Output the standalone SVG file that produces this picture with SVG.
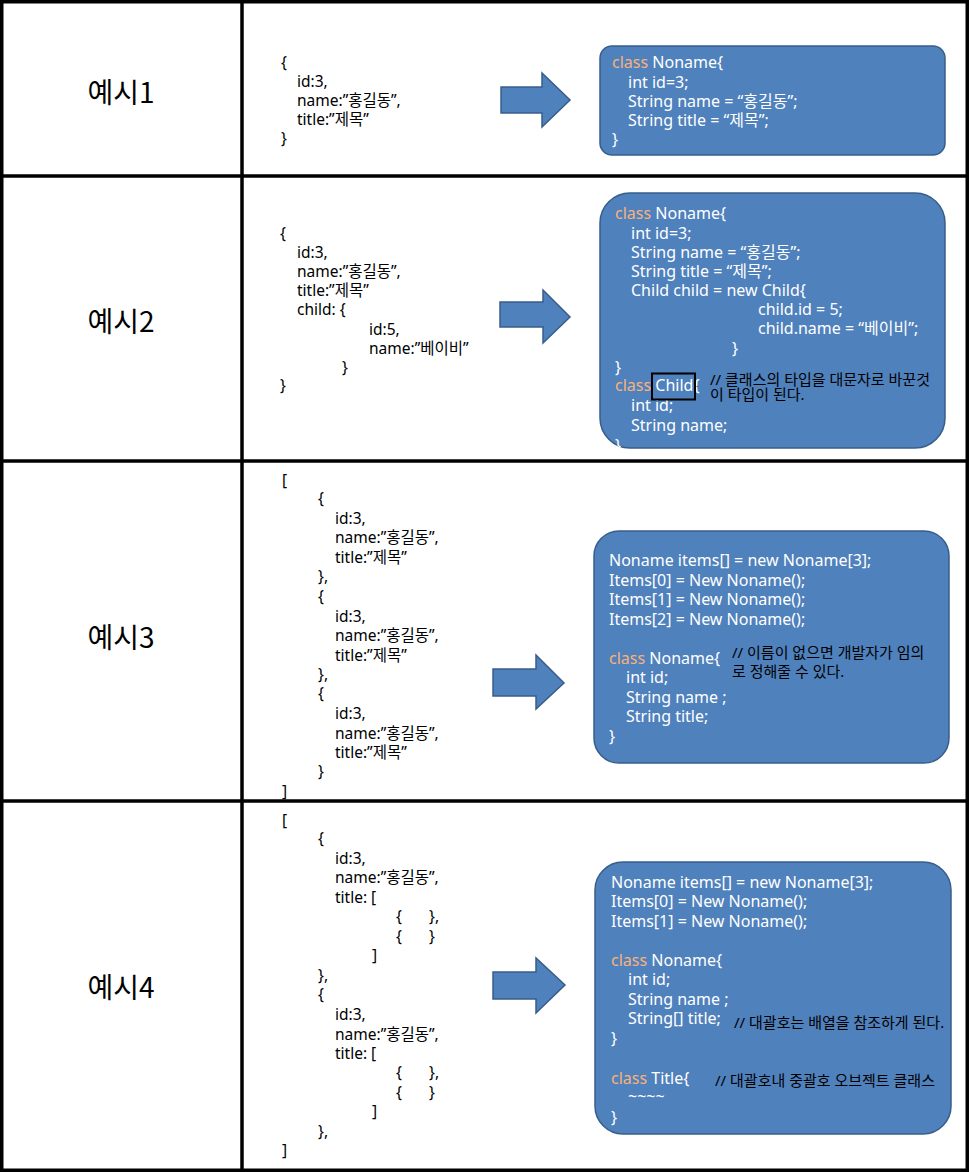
<svg xmlns="http://www.w3.org/2000/svg" width="971" height="1172" viewBox="0 0 971 1172">
<style>
.grid{stroke:#000;stroke-width:3.5;fill:none}
.box{fill:#4F81BD;stroke:#385D8A;stroke-width:1.5}
.arrow{fill:#4F81BD;stroke:#385D8A;stroke-width:1.5}
.lbl{font-family:'Noto Sans CJK KR','Noto Sans',sans-serif;font-size:28px;fill:#000;text-anchor:middle}
.js{font-family:'Noto Sans','Noto Sans CJK KR',sans-serif;font-size:15.5px;fill:#000}
.code{font-family:'Noto Sans','Noto Sans CJK KR',sans-serif;font-size:16px;fill:#fff}
.kw{fill:#F8B27A}
.cm{font-family:'Noto Sans','Noto Sans CJK KR',sans-serif;font-size:15px;fill:#000}
</style>
<rect width="971" height="1172" fill="#fff"/>
<g id="table">
<rect class="grid" x="1.75" y="1.75" width="965.5" height="1168.5"/>
<line class="grid" x1="242" y1="0" x2="242" y2="1170"/>
<line class="grid" x1="0" y1="176" x2="967" y2="176"/>
<line class="grid" x1="0" y1="461" x2="967" y2="461"/>
<line class="grid" x1="0" y1="801" x2="967" y2="801"/>
</g>
<g id="labels">
<text class="lbl" x="121" y="103">예시1</text>
<text class="lbl" x="121" y="332">예시2</text>
<text class="lbl" x="121" y="648">예시3</text>
<text class="lbl" x="121" y="998">예시4</text>
</g>
<g id="connectors">
<polygon class="arrow" points="501,87 542,87 542,73 570,100 542,127 542,113 501,113"/>
<polygon class="arrow" points="500,302 543,302 543,290 570,317 543,343 543,327 500,327"/>
<polygon class="arrow" points="493,669 536,669 536,655 564,683 536,709 536,696 493,696"/>
<polygon class="arrow" points="493,972 536,972 536,958 565,985 536,1013 536,999 493,999"/>
</g>
<g id="json1">
<text class="js" x="281" y="68">{</text>
<text class="js" x="297" y="87">id:3,</text>
<text class="js" x="297" y="106">name:”홍길동”,</text>
<text class="js" x="297" y="125">title:”제목”</text>
<text class="js" x="281" y="144">}</text>
</g>
<g id="json2">
<text class="js" x="280" y="239">{</text>
<text class="js" x="297" y="258">id:3,</text>
<text class="js" x="297" y="277">name:”홍길동”,</text>
<text class="js" x="297" y="296">title:”제목”</text>
<text class="js" x="297" y="315">child:  {</text>
<text class="js" x="369" y="335">id:5,</text>
<text class="js" x="369" y="354">name:”베이비”</text>
<text class="js" x="342" y="373">}</text>
<text class="js" x="280" y="391">}</text>
</g>
<g id="json3">
<text class="js" x="282" y="486">[</text>
<text class="js" x="318" y="504">{</text>
<text class="js" x="335" y="524">id:3,</text>
<text class="js" x="335" y="543">name:”홍길동”,</text>
<text class="js" x="335" y="563">title:”제목”</text>
<text class="js" x="318" y="582">},</text>
<text class="js" x="318" y="602">{</text>
<text class="js" x="335" y="622">id:3,</text>
<text class="js" x="335" y="641">name:”홍길동”,</text>
<text class="js" x="335" y="661">title:”제목”</text>
<text class="js" x="318" y="680">},</text>
<text class="js" x="318" y="699">{</text>
<text class="js" x="335" y="719">id:3,</text>
<text class="js" x="335" y="739">name:”홍길동”,</text>
<text class="js" x="335" y="758">title:”제목”</text>
<text class="js" x="318" y="777">}</text>
<text class="js" x="282" y="797">]</text>
</g>
<g id="json4">
<text class="js" x="282" y="826">[</text>
<text class="js" x="318" y="844">{</text>
<text class="js" x="335" y="864">id:3,</text>
<text class="js" x="335" y="883">name:”홍길동”,</text>
<text class="js" x="335" y="903">title:  [</text>
<text class="js" x="396" y="922">{</text>
<text class="js" x="429" y="922">},</text>
<text class="js" x="396" y="942">{</text>
<text class="js" x="429" y="942">}</text>
<text class="js" x="372" y="961">]</text>
<text class="js" x="318" y="981">},</text>
<text class="js" x="318" y="1000">{</text>
<text class="js" x="335" y="1020">id:3,</text>
<text class="js" x="335" y="1040">name:”홍길동”,</text>
<text class="js" x="335" y="1059">title:  [</text>
<text class="js" x="396" y="1078">{</text>
<text class="js" x="429" y="1078">},</text>
<text class="js" x="396" y="1098">{</text>
<text class="js" x="429" y="1098">}</text>
<text class="js" x="372" y="1117">]</text>
<text class="js" x="318" y="1137">},</text>
<text class="js" x="282" y="1156">]</text>
</g>
<g id="class1">
<rect class="box" x="600" y="46" width="345" height="109" rx="12"/>
<text class="code" x="612" y="68"><tspan class="kw">class</tspan> Noname{</text>
<text class="code" x="628" y="88">int id=3;</text>
<text class="code" x="628" y="107">String name = “홍길동”;</text>
<text class="code" x="628" y="126">String title = “제목”;</text>
<text class="code" x="612" y="145">}</text>
</g>
<g id="class2">
<rect class="box" x="600" y="193" width="345" height="255" rx="30"/>
<text class="code" x="615" y="219"><tspan class="kw">class</tspan> Noname{</text>
<text class="code" x="631" y="239">int id=3;</text>
<text class="code" x="631" y="258">String name = “홍길동”;</text>
<text class="code" x="631" y="277">String title = “제목”;</text>
<text class="code" x="631" y="296">Child child = new Child{</text>
<text class="code" x="758" y="315">child.id = 5;</text>
<text class="code" x="758" y="334">child.name = “베이비”;</text>
<text class="code" x="732" y="354">}</text>
<text class="code" x="615" y="373">}</text>
<text class="code" x="615" y="391"><tspan class="kw">class</tspan> Child{</text>
<text class="code" x="631" y="411">int id;</text>
<text class="code" x="631" y="431">String name;</text>
<text class="code" x="615" y="451">}</text>
<rect x="652" y="373.5" width="43" height="26" fill="none" stroke="#000" stroke-width="2"/>
<text class="cm" x="710" y="385">// 클래스의 타입을 대문자로 바꾼것</text>
<text class="cm" x="710" y="400">이 타입이 된다.</text>
</g>
<g id="class3">
<rect class="box" x="594" y="531" width="355" height="232" rx="25"/>
<text class="code" x="609" y="566">Noname items[] = new Noname[3];</text>
<text class="code" x="609" y="586">Items[0] = New Noname();</text>
<text class="code" x="609" y="605">Items[1] = New Noname();</text>
<text class="code" x="609" y="625">Items[2] = New Noname();</text>
<text class="code" x="609" y="664"><tspan class="kw">class</tspan> Noname{</text>
<text class="code" x="626" y="683">int id;</text>
<text class="code" x="626" y="703">String name ;</text>
<text class="code" x="626" y="722">String title;</text>
<text class="code" x="609" y="742">}</text>
<text class="cm" x="732" y="658">// 이름이 없으면 개발자가 임의</text>
<text class="cm" x="732" y="677">로 정해줄 수 있다.</text>
</g>
<g id="class4">
<rect class="box" x="595" y="862" width="356" height="272" rx="28"/>
<text class="code" x="611" y="888">Noname items[] = new Noname[3];</text>
<text class="code" x="611" y="907">Items[0] = New Noname();</text>
<text class="code" x="611" y="927">Items[1] = New Noname();</text>
<text class="code" x="611" y="966"><tspan class="kw">class</tspan> Noname{</text>
<text class="code" x="628" y="985">int id;</text>
<text class="code" x="628" y="1005">String name ;</text>
<text class="code" x="628" y="1024">String[] title;</text>
<text class="code" x="611" y="1044">}</text>
<text class="code" x="611" y="1084"><tspan class="kw">class</tspan> Title{</text>
<text class="code" x="628" y="1102">~~~~</text>
<text class="code" x="611" y="1123">}</text>
<text class="cm" x="734" y="1028">// 대괄호는 배열을 참조하게 된다.</text>
<text class="cm" x="715" y="1086">// 대괄호내 중괄호 오브젝트 클래스</text>
</g>
</svg>
